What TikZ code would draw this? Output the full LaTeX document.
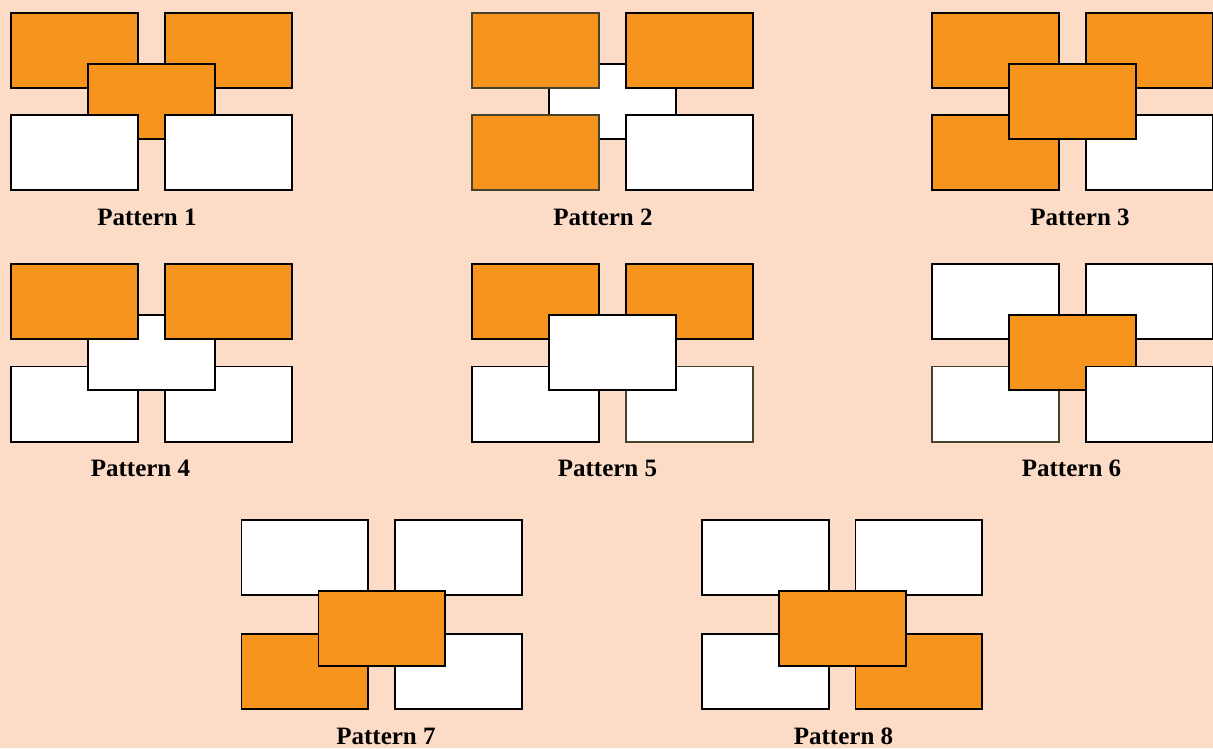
\documentclass[tikz,border=0pt]{standalone}
\usepackage{fontspec}
\setmainfont{Liberation Serif}
\definecolor{bgpeach}{RGB}{253,220,199}
\definecolor{orng}{RGB}{247,148,30}
\definecolor{olv}{RGB}{70,66,44}
\tikzset{
  box/.style={draw=black, line width=1.8pt, minimum width=126.7pt, minimum height=75.2pt, inner sep=0pt, outer sep=0pt},
  obox/.style={box, fill=orng},
  wbox/.style={box, fill=white},
  dim/.style={draw=olv},
  lbl/.style={font=\fontsize{25}{28}\selectfont\bfseries, anchor=base, inner sep=0pt}
}
% #1 style, #2 name, #3 x of left outer edge, #4 y of top outer edge
\newcommand{\bx}[4]{\node[#1] (#2) at ({#3+64.25},{#4+38.5}) {};}
\begin{document}
\begin{tikzpicture}[x=1pt,y=-1pt]
\fill[bgpeach] (0,0) rectangle (1213,748);
\useasboundingbox (0,0) rectangle (1213,748);
% Pattern 1
\bx{obox}{p1tl}{10}{12}
\bx{obox}{p1tr}{164}{12}
\bx{obox}{p1c}{87}{63}
\bx{wbox}{p1bl}{10}{114}
\bx{wbox}{p1br}{164}{114}
\node[lbl] (l1) at (147,225) {Pattern 1};
% Pattern 2
\bx{wbox}{p2c}{548}{63}
\bx{obox,dim}{p2tl}{471}{12}
\bx{obox}{p2tr}{625}{12}
\bx{obox,dim}{p2bl}{471}{114}
\bx{wbox}{p2br}{625}{114}
\node[lbl] (l2) at (603,225) {Pattern 2};
% Pattern 3
\bx{obox}{p3tl}{931}{12}
\bx{obox}{p3tr}{1085}{12}
\bx{obox}{p3bl}{931}{114}
\bx{wbox}{p3br}{1085}{114}
\bx{obox}{p3c}{1008}{63}
\node[lbl] (l3) at (1080,225) {Pattern 3};
% Pattern 4
\bx{wbox}{p4bl}{10}{365.5}
\bx{wbox}{p4br}{164}{365.5}
\bx{wbox}{p4c}{87}{314}
\bx{obox}{p4tl}{10}{263}
\bx{obox}{p4tr}{164}{263}
\node[lbl] (l4) at (140.5,476) {Pattern 4};
% Pattern 5
\bx{obox}{p5tl}{471}{263}
\bx{obox}{p5tr}{625}{263}
\bx{wbox}{p5bl}{471}{365.5}
\bx{wbox,dim}{p5br}{625}{365.5}
\bx{wbox}{p5c}{548}{314}
\node[lbl] (l5) at (607.5,476) {Pattern 5};
% Pattern 6
\bx{wbox}{p6tl}{931}{263}
\bx{wbox}{p6tr}{1085}{263}
\bx{wbox,dim}{p6bl}{931}{365.5}
\bx{obox}{p6c}{1008}{314}
\bx{wbox}{p6br}{1085}{365.5}
\node[lbl] (l6) at (1071.5,476) {Pattern 6};
% Pattern 7
\bx{wbox}{p7tl}{240.5}{519}
\bx{wbox}{p7tr}{394}{519}
\bx{obox}{p7bl}{240.5}{633}
\bx{wbox}{p7br}{394}{633}
\bx{obox}{p7c}{317.5}{590}
\node[lbl] (l7) at (386,744.5) {Pattern 7};
% Pattern 8
\bx{wbox}{p8tl}{701}{519}
\bx{wbox}{p8tr}{854.5}{519}
\bx{wbox}{p8bl}{701}{633}
\bx{obox}{p8br}{854.5}{633}
\bx{obox}{p8c}{778}{590}
\node[lbl] (l8) at (843.5,744.5) {Pattern 8};
\end{tikzpicture}
\end{document}
